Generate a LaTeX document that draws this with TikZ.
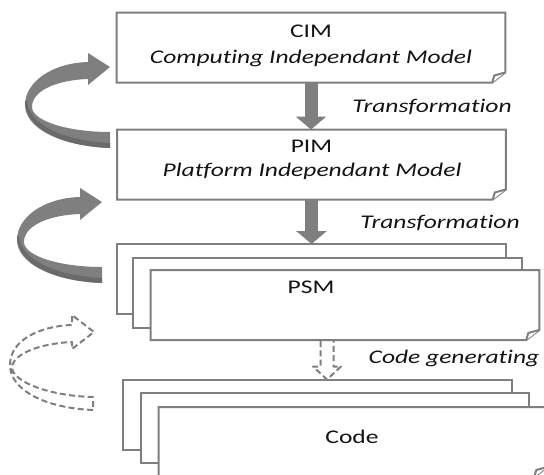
\documentclass[tikz,border=0pt]{standalone}
\usepackage{fontspec}
\setmainfont{Carlito}[Ligatures=NoCommon]
\usetikzlibrary{arrows.meta,calc}
\definecolor{framegray}{HTML}{7F7F7F}
\definecolor{arrowgray}{HTML}{7F7F7F}
\definecolor{sidegray}{HTML}{6A6A6A}
\definecolor{txt}{HTML}{141414}
% box outline with a folded bottom-right corner
\newcommand\foldedframe[1]{%
  \draw[frame] (#1.north west) -- (#1.north east) -- ([yshift=7.5pt]#1.south east)
    -- ([xshift=-9.75pt]#1.south east) -- (#1.south west) -- cycle;
  \draw[frame,line join=round] ([xshift=-9.75pt]#1.south east)
    -- ([xshift=-8.25pt,yshift=5.25pt]#1.south east) -- ([yshift=7.5pt]#1.south east);}
% solid circular ribbon arrow pointing right, with its darker underside
\newcommand\ribbonarrow[1]{%
  \begin{scope}[shift={#1}]
    \fill[ribbon] (110,148) .. controls (60,146) and (25,128) .. (25,105)
      .. controls (25,82) and (52,63) .. (88,62)
      -- (88,53) -- (110,67) -- (88,85) -- (88,79)
      .. controls (58,80) and (32,90) .. (32,107)
      .. controls (32,121) and (68,132) .. (110,132) -- cycle;
    \fill[ribbonside] (25,101) .. controls (25,128) and (60,146) .. (110,148)
      -- (110,143) .. controls (66,141) and (29,126) .. (27,101) -- cycle;
  \end{scope}}
\begin{document}
\begin{tikzpicture}[x=0.75pt,y=-0.75pt,
  boxnode/.style={rectangle,minimum width=291.4pt,minimum height=52.5pt,inner sep=0pt,outer sep=0pt},
  frame/.style={draw=framegray,line width=1.5pt,fill=white},
  lbl/.style={font=\fontsize{14.5}{17}\selectfont,text=txt,xscale=1.32,inner sep=0pt,anchor=base},
  itl/.style={lbl,font=\fontsize{14.5}{17}\selectfont\itshape},
  downarrow/.style={draw=arrowgray,line width=9.75pt,-{Triangle[length=9.75pt,width=22.5pt]}},
  ribbon/.style={fill=arrowgray},
  ribbonside/.style={fill=sidegray},
  dashedoutline/.style={draw=framegray,line width=1.5pt,dash pattern=on 4.5pt off 2.5pt,line join=round}]
\useasboundingbox (0,0) rectangle (544,475);
\clip (0,0) rectangle (544,475);

% iteration arrows on the left
\ribbonarrow{(0,0)}
\ribbonarrow{(-8,135)}
\draw[dashedoutline] (93,410) .. controls (45,408) and (10,390) .. (10,365)
  .. controls (10,340) and (40,326) .. (72,325)
  -- (72,315) -- (94,332) -- (72,349) -- (72,342)
  .. controls (45,343) and (14,352) .. (12,367)
  .. controls (12,382) and (50,396) .. (93,397) -- cycle;

% CIM
\node[boxnode] (cim) at (311,47.5) {};
\foldedframe{cim}
\node[lbl] (cimtitle) at (311,37) {CIM};
\node[itl] (cimsub) at (311,63) {Computing Independant Model};

% PIM
\node[boxnode] (pim) at (311.5,164.5) {};
\foldedframe{pim}
\node[lbl] (pimtitle) at (311.5,152) {PIM};
\node[itl] (pimsub) at (312,176) {Platform Independant Model};

% PSM stack
\node[boxnode] (psmA) at (311.5,279) {};
\node[boxnode] (psmB) at (327.5,292.5) {};
\node[boxnode] (psmC) at (345,305) {};
\draw[frame] (psmA.north west) rectangle (psmA.south east);
\draw[frame] (psmB.north west) rectangle (psmB.south east);
\foldedframe{psmC}
\node[lbl] (psmtitle) at (311,293) {PSM};

% Code stack
\node[boxnode] (codeA) at (317.5,414.5) {};
\node[boxnode] (codeB) at (335,428) {};
\node[boxnode] (codeC) at (353,442) {};
\draw[frame] (codeA.north west) rectangle (codeA.south east);
\draw[frame] (codeB.north west) rectangle (codeB.south east);
\foldedframe{codeC}
\node[lbl] (codetitle) at (352,443) {Code};

% transformation arrows
\draw[downarrow] (cim.south) -- (cim.south |- pim.north);
\draw[downarrow] (pim.south) -- (pim.south |- psmA.north);
\node[itl] (trans1) at (432,112) {Transformation};
\node[itl] (trans2) at (440,228) {Transformation};

% code generation arrow (hollow, dashed)
\coordinate (gs) at ($(psmC.south)+(-18,1)$);
\coordinate (ge) at (gs |- codeA.north);
\draw[dashedoutline] ($(gs)+(-6.5,0)$) -- ($(ge)+(-6.5,-13)$) -- ($(ge)+(-14,-13)$)
  -- (ge) -- ($(ge)+(14,-13)$) -- ($(ge)+(6.5,-13)$) -- ($(gs)+(6.5,0)$);
\node[itl] (codegen) at (454,363) {Code generating};
\end{tikzpicture}
\end{document}
